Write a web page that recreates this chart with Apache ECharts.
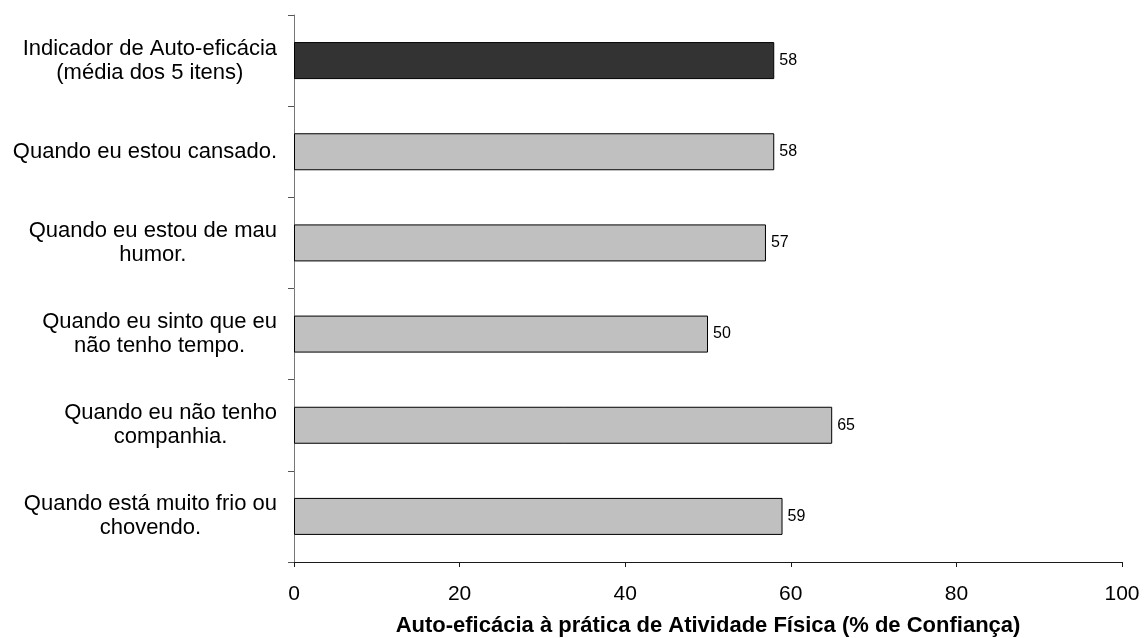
<!DOCTYPE html>
<html>
<head>
<meta charset="utf-8">
<script src="https://cdn.jsdelivr.net/npm/echarts@6/dist/echarts.min.js"></script>
<style>
  html, body { margin: 0; padding: 0; background: #ffffff; }
  #chart { width: 1144px; height: 638px; }
</style>
</head>
<body>
<div id="chart"></div>
<script>
// Self-efficacy items (top to bottom) and their confidence scores (%)
const categories = [
  'Indicador de Auto-eficácia\n(média dos 5 itens)',
  'Quando eu estou cansado.',
  'Quando eu estou de mau\nhumor.',
  'Quando eu sinto que eu\nnão tenho tempo.',
  'Quando eu não tenho\ncompanhia.',
  'Quando está muito frio ou\nchovendo.'
];
const scores = [58, 58, 57, 50, 65, 59];
const barColors = ['#333333', '#c0c0c0', '#c0c0c0', '#c0c0c0', '#c0c0c0', '#c0c0c0'];
const xTicks = [0, 20, 40, 60, 80, 100];
const xAxisTitle = 'Auto-eficácia à prática de Atividade Física (% de Confiança)';

const FONT = '"Liberation Sans", Arial, sans-serif';

const chart = echarts.init(document.getElementById('chart'), null, { renderer: 'canvas' });

chart.setOption({
  backgroundColor: '#ffffff',
  animation: false,
  grid: {
    left: 294, right: 22, top: 15, bottom: 76,
    containLabel: false,
    outerBoundsMode: 'none'
  },
  xAxis: {
    type: 'value',
    min: xTicks[0],
    max: xTicks[xTicks.length - 1],
    interval: xTicks[1] - xTicks[0],
    splitLine: { show: false },
    axisLine: { show: true, lineStyle: { color: '#1a1a1a', width: 1 } },
    axisTick: { show: true, length: 5, inside: false, lineStyle: { color: '#1a1a1a' } },
    axisLabel: { color: '#000', fontFamily: FONT, fontSize: 21, margin: 22 },
    name: xAxisTitle,
    nameLocation: 'middle',
    nameGap: 53,
    nameTextStyle: { color: '#000', fontFamily: FONT, fontSize: 22, fontWeight: 'bold' }
  },
  yAxis: {
    type: 'category',
    data: categories,
    inverse: true,
    axisLine: { show: true, lineStyle: { color: '#777777', width: 1 } },
    axisTick: { show: true, length: 6, alignWithLabel: false, lineStyle: { color: '#555555' } },
    splitLine: { show: false },
    axisLabel: {
      margin: 17,
      align: 'right',
      formatter: function (v) {
        return v.split('\n').map(function (l) { return '{c|' + l + '}'; }).join('\n');
      },
      rich: {
        c: { align: 'center', color: '#000', fontFamily: FONT, fontSize: 22, lineHeight: 24 }
      }
    }
  },
  series: [{
    type: 'bar',
    data: scores.map(function (v, i) {
      return { value: v, itemStyle: { color: barColors[i] } };
    }),
    barWidth: 37,
    itemStyle: { borderColor: '#000', borderWidth: 1 },
    label: {
      show: true,
      position: 'right',
      distance: 5,
      color: '#000',
      fontFamily: FONT,
      fontSize: 16
    }
  }]
});
</script>
</body>
</html>
